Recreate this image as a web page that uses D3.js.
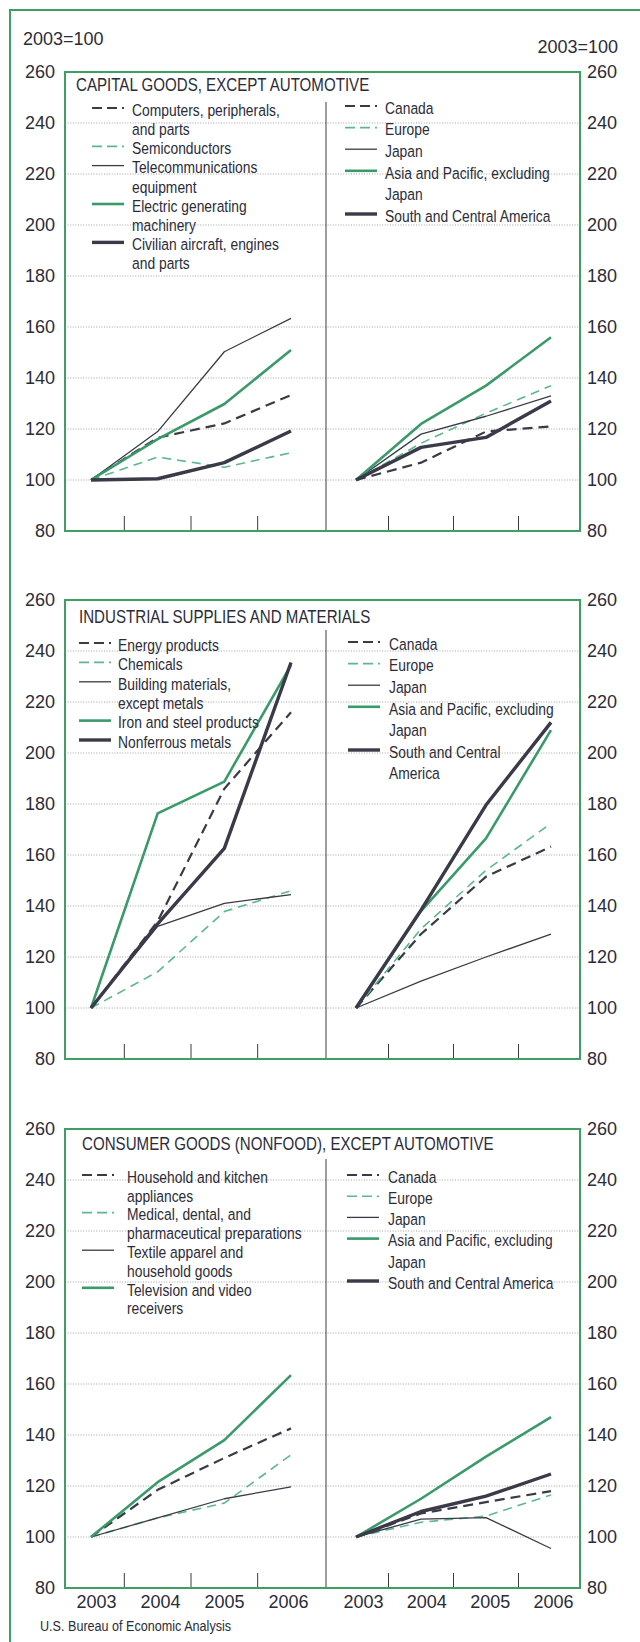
<!DOCTYPE html>
<html lang="en">
<head>
<meta charset="UTF-8">
<title>exports by product and region</title>
<script src="https://cdn.jsdelivr.net/npm/d3@7"></script>
<style>
    body { margin: 0; background: #ffffff; }
    svg text { font-family: "Liberation Sans", Arial, Helvetica, sans-serif; fill: #2c2c38; }
</style>
</head>
<body>
<svg id="chart" width="640" height="1642"></svg>
<script>
    // ---- data (index, 2003=100) ----
    let years = ["2003", "2004", "2005", "2006"];
    let yTicks = [80, 100, 120, 140, 160, 180, 200, 220, 240, 260];
    let panelTitles = ["CAPITAL GOODS, EXCEPT AUTOMOTIVE",
        "INDUSTRIAL SUPPLIES AND MATERIALS",
        "CONSUMER GOODS (NONFOOD), EXCEPT AUTOMOTIVE"];

    let capitalProducts = [["Computers, peripherals,", "and parts"], ["Semiconductors"],
        ["Telecommunications", "equipment"], ["Electric generating", "machinery"],
        ["Civilian aircraft, engines", "and parts"]];
    let industrialProducts = [["Energy products"], ["Chemicals"],
        ["Building materials,", "except metals"], ["Iron and steel products"], ["Nonferrous metals"]];
    let consumerProducts = [["Household and kitchen", "appliances"],
        ["Medical, dental, and", "pharmaceutical preparations"],
        ["Textile apparel and", "household goods"], ["Television and video", "receivers"]];
    let regionsA = [["Canada"], ["Europe"], ["Japan"], ["Asia and Pacific, excluding", "Japan"],
        ["South and Central America"]];
    let regionsB = [["Canada"], ["Europe"], ["Japan"], ["Asia and Pacific, excluding", "Japan"],
        ["South and Central", "America"]];

    let capitalByProduct = [
        [100, 116.6, 122.2, 133.3],
        [100, 109, 105, 110.7],
        [100, 119, 150.3, 163.4],
        [100, 116, 129.8, 151],
        [100, 100.5, 106.8, 119.2]];
    let capitalByRegion = [
        [100, 106.8, 119, 121],
        [100, 114.4, 126.2, 137],
        [100, 118, 125, 133],
        [100, 122, 137, 156],
        [100, 112.8, 116.7, 131]];
    let industrialByProduct = [
        [100, 134, 186, 216],
        [100, 114.2, 137.8, 146],
        [100, 132, 141, 144.5],
        [100, 176.3, 188.8, 234.5],
        [100, 133, 162.6, 235.5]];
    let industrialByRegion = [
        [100, 129, 151.5, 163.3],
        [100, 131, 154, 172.4],
        [100, 110.5, 120, 129],
        [100, 138, 166.5, 209],
        [100, 138.4, 179.6, 212]];
    let consumerByProduct = [
        [100, 118.5, 131, 142.6],
        [100, 107.5, 113.3, 132.2],
        [100, 107.5, 115, 119.7],
        [100, 121.5, 138, 163.5]];
    let consumerByRegion = [
        [100, 109.2, 113.7, 118],
        [100, 105.8, 108.2, 116.5],
        [100, 107, 107.6, 95.5],
        [100, 115, 131.5, 147],
        [100, 110, 116, 124.7]];

    // ---- look ----
    let GREEN = "#3f9e63";
    let LINEGREEN = "#3a9a6a";
    let LIGHTGREEN = "#5cb98b";
    let DARK = "#3a3a48";
    // same order for products and regions
    let productStyles = [
        {color: DARK, width: 2.2, dash: "10,6"},
        {color: LIGHTGREEN, width: 1.6, dash: "9,6"},
        {color: DARK, width: 1.3, dash: null},
        {color: LINEGREEN, width: 2.6, dash: null},
        {color: DARK, width: 3.4, dash: null}];
    // consumer products skip the thick line
    let consumerStyles = productStyles.slice(0, 4);

    let panels = [
        {top: 72, prod: capitalProducts, prodVals: capitalByProduct, reg: regionsA, regVals: capitalByRegion,
            pStyles: productStyles, titleX: 76, titleDy: 13,
            legL: {sx: 92, tx: 132, y: 38, step: 19.2}, legR: {sx: 345, tx: 385, y: 36, step: 21.6}},
        {top: 600, prod: industrialProducts, prodVals: industrialByProduct, reg: regionsB, regVals: industrialByRegion,
            pStyles: productStyles, titleX: 79, titleDy: 17,
            legL: {sx: 79, tx: 118, y: 45, step: 19.4}, legR: {sx: 348, tx: 389, y: 44, step: 21.6}},
        {top: 1129, prod: consumerProducts, prodVals: consumerByProduct, reg: regionsA, regVals: consumerByRegion,
            pStyles: consumerStyles, titleX: 82, titleDy: 15,
            legL: {sx: 82, tx: 127, y: 48, step: 18.8}, legR: {sx: 347, tx: 388, y: 48, step: 21.2}}
    ];

    let H = 459, L = 65, R = 580, MID = 326;
    let svg = d3.select("#chart");

    function addText(g, x, y, str, size) {
        g.append("text")
            .attr("transform", "translate(" + x + "," + y + ") scale(0.84,1)")
            .attr("dy", "0.35em")
            .style("font-size", size + "px")
            .text(str);
    }

    // outer frame
    svg.append("path").attr("d", "M10,1642V10H640")
        .attr("fill", "none").attr("stroke", GREEN).attr("stroke-width", 2);

    svg.append("text").attr("x", 23).attr("y", 39).attr("dy", "0.35em")
        .style("font-size", "18px").text("2003=100");
    svg.append("text").attr("x", 618).attr("y", 47).attr("dy", "0.35em")
        .attr("text-anchor", "end").style("font-size", "18px").text("2003=100");

    let xLeft = d3.scalePoint().domain(years).range([91, 291]);
    let xRight = d3.scalePoint().domain(years).range([356, 551]);

    function drawSeries(g, x, y, values, styles) {
        let line = d3.line().x(function (d, i) { return x(years[i]); }).y(function (d) { return y(d); });
        values.forEach(function (vals, i) {
            let st = styles[i];
            g.append("path").datum(vals)
                .attr("d", line)
                .attr("fill", "none")
                .attr("stroke", st.color)
                .attr("stroke-width", st.width)
                .attr("stroke-dasharray", st.dash)
                .attr("stroke-linejoin", "round");
        });
    }

    function drawLegend(g, entries, styles, top, leg) {
        let row = 0;
        entries.forEach(function (lines, i) {
            let st = styles[i];
            let yy = top + leg.y + row * leg.step;
            g.append("line")
                .attr("x1", leg.sx).attr("x2", leg.sx + 32)
                .attr("y1", yy - 2).attr("y2", yy - 2)
                .attr("stroke", st.color)
                .attr("stroke-width", st.width)
                .attr("stroke-dasharray", st.dash ? "10,5" : null);
            lines.forEach(function (t, j) {
                addText(g, leg.tx, yy + j * leg.step, t, 16.5);
            });
            row += lines.length;
        });
    }

    panels.forEach(function (p, k) {
        let top = p.top;
        let y = d3.scaleLinear().domain([80, 260]).range([top + H, top]);
        let g = svg.append("g");

        // grid
        g.selectAll(".grid").data(yTicks.filter(function (v) { return v > 80 && v < 260; }))
            .enter().append("line")
            .attr("x1", L).attr("x2", R)
            .attr("y1", function (d) { return y(d); })
            .attr("y2", function (d) { return y(d); })
            .attr("stroke", "#8c8c8c").attr("stroke-width", 0.8)
            .attr("stroke-dasharray", "1,1.6");

        // divider
        g.append("line").attr("x1", MID).attr("x2", MID)
            .attr("y1", top + 30).attr("y2", top + H)
            .attr("stroke", DARK).attr("stroke-width", 1);

        // ticks between years
        [xLeft, xRight].forEach(function (x) {
            for (let i = 0; i < years.length - 1; i++) {
                let xm = (x(years[i]) + x(years[i + 1])) / 2;
                g.append("line").attr("x1", xm).attr("x2", xm)
                    .attr("y1", top + H).attr("y2", top + H - 15)
                    .attr("stroke", DARK).attr("stroke-width", 1);
            }
        });

        drawSeries(g, xLeft, y, p.prodVals, p.pStyles);
        drawSeries(g, xRight, y, p.regVals, productStyles);

        drawLegend(g, p.prod, p.pStyles, top, p.legL);
        drawLegend(g, p.reg, productStyles, top, p.legR);

        addText(g, p.titleX, top + p.titleDy, panelTitles[k], 18);

        g.append("rect").attr("x", L).attr("y", top).attr("width", R - L).attr("height", H)
            .attr("fill", "none").attr("stroke", GREEN).attr("stroke-width", 2);

        // axes labels
        let axL = g.append("g").attr("transform", "translate(" + L + ",0)")
            .call(d3.axisLeft(y).tickValues(yTicks).tickSize(0).tickPadding(10));
        let axR = g.append("g").attr("transform", "translate(" + R + ",0)")
            .call(d3.axisRight(y).tickValues(yTicks).tickSize(0).tickPadding(7));
        [axL, axR].forEach(function (ax) {
            ax.select(".domain").remove();
            ax.attr("font-family", null).attr("font-size", null);
            ax.selectAll("text").style("font-size", "18px").attr("fill", "#2c2c38");
        });

        if (k === 2) {
            let lblLeft = d3.scalePoint().domain(years).range([96, 288]);
            let lblRight = d3.scalePoint().domain(years).range([363, 553]);
            [lblLeft, lblRight].forEach(function (x) {
                let ax = g.append("g").attr("transform", "translate(0," + (top + H) + ")")
                    .call(d3.axisBottom(x).tickSize(0).tickPadding(7));
                ax.select(".domain").remove();
                ax.attr("font-family", null).attr("font-size", null);
                ax.selectAll("text").style("font-size", "18px").attr("fill", "#2c2c38");
            });
        }
    });

    addText(svg, 40, 1626, "U.S. Bureau of Economic Analysis", 15);
</script>
</body>
</html>
